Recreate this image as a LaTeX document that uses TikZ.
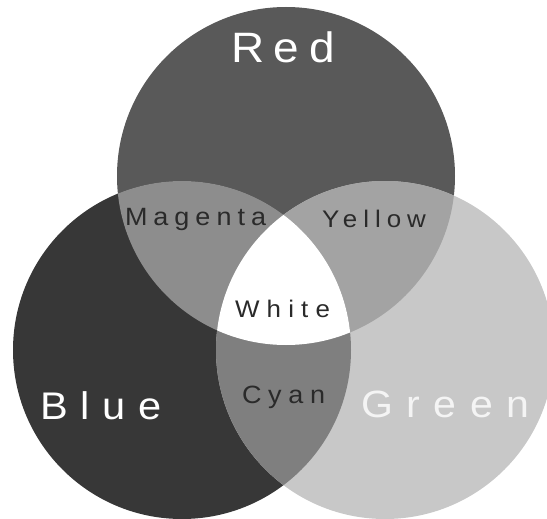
\documentclass[tikz,border=0pt]{standalone}
\usepackage{fontspec}
\setmainfont{Liberation Sans}
\definecolor{redc}{HTML}{595959}
\definecolor{bluec}{HTML}{373737}
\definecolor{greenc}{HTML}{C8C8C8}
\definecolor{magc}{HTML}{8D8D8D}
\definecolor{yelc}{HTML}{A3A3A3}
\definecolor{cyac}{HTML}{7F7F7F}
\definecolor{darktext}{HTML}{2A2A2A}
\definecolor{lighttext}{HTML}{F4F4F4}
\begin{document}
\begin{tikzpicture}[x=1pt,y=-1pt,
  lbl/.style={anchor=base west, inner sep=0pt, outer sep=0pt},
  biglbl/.style={lbl, text=white},
  smalllbl/.style={lbl, text=darktext}]
\useasboundingbox (0,0) rectangle (547,519);
\fill[white] (0,0) rectangle (547,519);
\coordinate (cR) at (286,176);
\coordinate (cB) at (182,350);
\coordinate (cG) at (385,350);
\def\rad{169}
% base circles
\fill[redc] (cR) circle[radius=\rad];
\fill[bluec] (cB) circle[radius=\rad];
\fill[greenc] (cG) circle[radius=\rad];
% pairwise overlaps
\begin{scope}
  \clip (cR) circle[radius=\rad];
  \fill[magc] (cB) circle[radius=\rad];
  \fill[yelc] (cG) circle[radius=\rad];
\end{scope}
\begin{scope}
  \clip (cB) circle[radius=\rad];
  \fill[cyac] (cG) circle[radius=\rad];
\end{scope}
% triple overlap
\begin{scope}
  \clip (cR) circle[radius=\rad];
  \clip (cB) circle[radius=\rad];
  \fill[white] (cG) circle[radius=\rad];
\end{scope}
% labels
\node[biglbl, font=\fontsize{42.5}{50}\selectfont\addfontfeature{FakeStretch=1.08,LetterSpace=23}] (red) at (231,63) {Red};
\node[biglbl, font=\fontsize{38.5}{46}\selectfont\addfontfeature{FakeStretch=1.08,LetterSpace=33}] (blue) at (40,419) {Blue};
\node[lbl, text=lighttext, font=\fontsize{38}{46}\selectfont\addfontfeature{FakeStretch=1.08,LetterSpace=36}] (green) at (361,417) {Green};
\node[smalllbl, font=\fontsize{25}{30}\selectfont\addfontfeature{FakeStretch=1.08,LetterSpace=24}] (magenta) at (125,225) {Magenta};
\node[smalllbl, font=\fontsize{24}{29}\selectfont\addfontfeature{FakeStretch=1.08,LetterSpace=25}] (yellow) at (322,227) {Yellow};
\node[smalllbl, font=\fontsize{24}{29}\selectfont\addfontfeature{FakeStretch=1.08,LetterSpace=30}] (white) at (235,317) {White};
\node[smalllbl, font=\fontsize{25}{30}\selectfont\addfontfeature{FakeStretch=1.08,LetterSpace=27}] (cyan) at (242,403) {Cyan};
\end{tikzpicture}
\end{document}
